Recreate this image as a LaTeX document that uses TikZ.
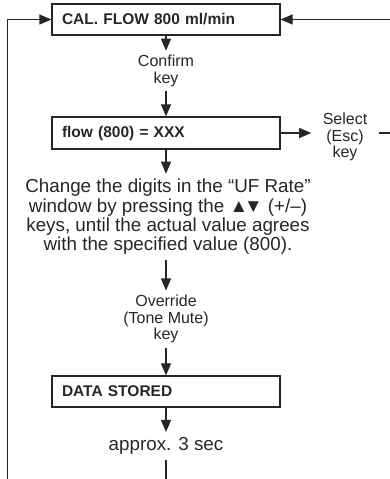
\documentclass[tikz,border=0pt]{standalone}
\usepackage{fontspec}
\setmainfont{Liberation Sans}
\usetikzlibrary{arrows.meta}
\definecolor{ink}{HTML}{262626}
\begin{document}
\begin{tikzpicture}[x=1pt,y=-1pt,
  line width=1.1pt, draw=ink, text=ink,
  box/.style={draw=ink, line width=1.2pt, minimum width=228pt, minimum height=31pt,
    inner xsep=10pt, inner ysep=0pt, text width=208pt, align=left,
    font=\bfseries\fontsize{15.5}{18}\selectfont},
  lbl/.style={align=center, inner xsep=0pt, inner ysep=4pt,
    font=\fontsize{16}{16.5}\selectfont},
  para/.style={align=center, inner xsep=0pt, inner ysep=5pt,
    font=\fontsize{18.8}{19.3}\selectfont},
  arr/.style={-{Triangle[length=12pt,width=10pt]}, draw=ink, line width=1.1pt},
  ln/.style={draw=ink, line width=1.1pt}]
\useasboundingbox (0,0) rectangle (390,479);
\clip (0,0) rectangle (390,479);
\node[box] (b1) at (166,19.5) {CAL. FLOW 800 ml/min};
\node[lbl] (confirm) at (166,71) {Confirm\\key};
\node[box, minimum height=32pt] (b2) at (166,133) {flow (800) = XXX};
\node[lbl, inner xsep=11pt] (select) at (345,137) {Select\\(Esc)\\key};
\node[para] (para) at (168,217) {Change the digits in the “UF Rate”\\window by pressing the ▲\kern-0.22em▼ (+/–)\\keys, until the actual value agrees\\with the specified value (800).};
\node[lbl] (override) at (166,319) {Override\\(Tone Mute)\\key};
\node[box] (b3) at (166,391.5) {DATA STORED};
\node[para] (approx) at (166,446) {approx. 3 sec};
\coordinate (rt) at (396,133);
\coordinate (lb) at (7.5,486);
\draw[arr] (b1) -- (confirm);
\draw[arr] (confirm) -- (b2);
\draw[arr] (b2.east) -- (b2.east -| select.west);
\draw[arr] (b2) -- (b2 |- para.north);
\draw[arr] (b2 |- para.south) -- (override);
\draw[arr] (override) -- (b3);
\draw[arr] (b3) -- (approx);
\draw[arr] (select.east |- b2.east) -- (rt) |- (b1.east);
\draw[arr] (approx) -- (approx |- lb) -- (lb) |- (b1.west);
\end{tikzpicture}
\end{document}
